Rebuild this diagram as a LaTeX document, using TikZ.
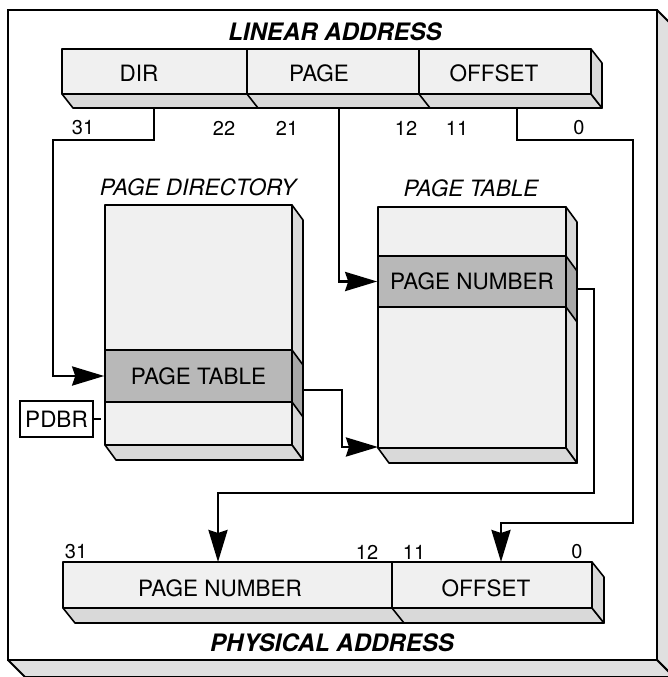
\documentclass[tikz,border=0pt]{standalone}
\usepackage{fontspec}
\setmainfont{TeX Gyre Heros}
\usetikzlibrary{arrows.meta}
\definecolor{facefront}{gray}{0.94}
\definecolor{faceside}{gray}{0.85}
\definecolor{entryfront}{gray}{0.72}
\definecolor{entryside}{gray}{0.66}
\definecolor{framefill}{gray}{0.88}
\begin{document}
\begin{tikzpicture}[x=1pt,y=-1pt,
  lbl/.style={font=\fontsize{22.5}{26}\selectfont, inner sep=0pt},
  ttl/.style={font=\fontsize{24}{28}\selectfont\bfseries\itshape, inner sep=0pt},
  hdr/.style={font=\fontsize{22.5}{26}\selectfont\itshape, inner sep=0pt},
  num/.style={font=\fontsize{20}{22}\selectfont, inner sep=0pt},
  edgeline/.style={line width=1.6pt, line join=round},
  sideface/.style={edgeline, fill=faceside},
  entrybox/.style={edgeline, draw, fill=entryfront, inner sep=0pt, font=\fontsize{22.5}{26}\selectfont},
  conn/.style={line width=2.8pt, -{Stealth[length=32pt,width=19pt,inset=3pt]}},
]
\useasboundingbox (0,0) rectangle (668,677);
\clip (0,0) rectangle (668,677);

% outer frame
\draw[sideface, fill=framefill, line width=1.8pt] (657,10) -- (674,27) -- (674,677) -- (657,660) -- cycle;
\draw[sideface, fill=framefill, line width=1.8pt] (8,660) -- (657,660) -- (674,677) -- (25,677) -- cycle;
\draw[line width=1.8pt, fill=white] (8,10) rectangle (657,660);

% linear address
\node[ttl] (lintitle) at (335,32) {LINEAR ADDRESS};
\fill[facefront] (62,49) rectangle (591,94);
\draw[sideface] (62,94) -- (591,94) -- (602,108) -- (73,108) -- cycle;
\draw[sideface] (591,49) -- (602,63) -- (602,108) -- (591,94) -- cycle;
\draw[edgeline] (62,49) rectangle (591,94);
\draw[edgeline] (247,49) -- (247,94) -- (258,108);
\draw[edgeline] (419,49) -- (419,94) -- (430,108);
\node[lbl] (dir) at (139,73) {DIR};
\node[lbl] (page) at (319,73) {PAGE};
\node[lbl] (offset) at (494,73) {OFFSET};
\node[num] (n31) at (83,128) {31};
\node[num] (n22) at (224,128) {22};
\node[num] (n21) at (287,128) {21};
\node[num] (n12) at (406,128) {12};
\node[num] (n11) at (457,128) {11};
\node[num] (n0) at (579,128) {0};
\coordinate (dirtap) at (154,108);
\coordinate (pagetap) at (339,108);
\coordinate (offtap) at (517,108);

% page directory
\node[hdr] (pdtitle) at (198,187) {PAGE DIRECTORY};
\fill[facefront] (105,205) rectangle (292,445);
\draw[sideface] (292,205) -- (303,220) -- (303,460) -- (292,445) -- cycle;
\draw[edgeline, fill=entryside] (292,350) -- (303,365) -- (303,417) -- (292,402) -- cycle;
\draw[sideface] (105,445) -- (292,445) -- (303,460) -- (116,460) -- cycle;
\draw[edgeline] (105,205) rectangle (292,445);
\node[entrybox, minimum width=187pt, minimum height=52pt] (pdentry) at (198.5,376) {PAGE TABLE};
\coordinate (pdside) at (303,390);

% PDBR
\node[lbl, draw, line width=1.5pt, minimum width=73pt, minimum height=36pt] (pdbr) at (56.5,419) {PDBR};
\coordinate (pdbrtick) at (101,419);
\draw[edgeline] (pdbr.east) -- (pdbrtick);

% page table
\node[hdr] (pttitle) at (471,188) {PAGE TABLE};
\fill[facefront] (378,207) rectangle (566,448);
\draw[sideface] (566,207) -- (577,222) -- (577,463) -- (566,448) -- cycle;
\draw[edgeline, fill=entryside] (566,256) -- (577,271) -- (577,322) -- (566,307) -- cycle;
\draw[sideface] (378,448) -- (566,448) -- (577,463) -- (389,463) -- cycle;
\draw[edgeline] (378,207) rectangle (566,448);
\node[entrybox, minimum width=188pt, minimum height=51pt] (ptentry) at (472,281.5) {PAGE NUMBER};
\coordinate (ptside) at (577,289);
\coordinate (ptbottom) at (378,447);

% physical address
\fill[facefront] (63,562) rectangle (592,608);
\draw[sideface] (63,608) -- (592,608) -- (604,623) -- (75,623) -- cycle;
\draw[sideface] (592,562) -- (604,577) -- (604,623) -- (592,608) -- cycle;
\draw[edgeline] (63,562) rectangle (592,608);
\draw[edgeline] (392,562) -- (392,608) -- (404,623);
\node[lbl] (ppage) at (220,588) {PAGE NUMBER};
\node[lbl] (poff) at (486,588) {OFFSET};
\node[num] (p31) at (76,552) {31};
\node[num] (p12) at (367,552) {12};
\node[num] (p11) at (414,552) {11};
\node[num] (p0) at (577,552) {0};
\node[ttl] (phystitle) at (332,643) {PHYSICAL ADDRESS};
\coordinate (ppagetip) at (218,562);
\coordinate (pofftip) at (501,562);

% connectors
\draw[conn] (dirtap) -- (154,140) -- (53,140) |- (pdentry.west);
\draw[conn] (pagetap) |- (ptentry.west);
\draw[conn] (pdside) -- (342,390) |- (ptbottom);
\draw[conn] (ptside) -| (594,493) -| (ppagetip);
\draw[conn] (offtap) -- (517,140) -| (633,523) -| (pofftip);
\end{tikzpicture}
\end{document}
